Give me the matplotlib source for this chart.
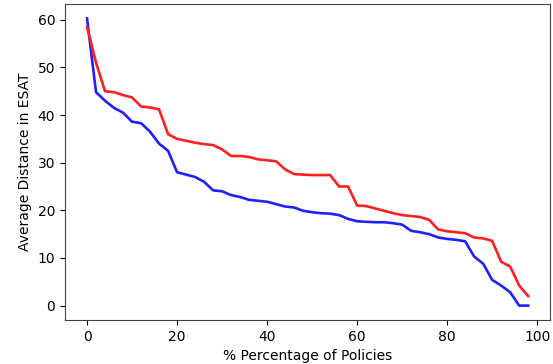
import matplotlib
matplotlib.use("Agg")
import matplotlib.pyplot as plt

pct = list(range(0, 100, 2))
blue = [60.3, 44.8, 43.0, 41.5, 40.5, 38.6, 38.3, 36.5, 34.0, 32.5,
        28.0, 27.5, 27.0, 26.0, 24.2, 24.0, 23.2, 22.8, 22.2, 22.0,
        21.8, 21.3, 20.8, 20.6, 19.9, 19.6, 19.4, 19.3, 19.0, 18.2,
        17.7, 17.6, 17.5, 17.5, 17.3, 17.0, 15.7, 15.4, 15.0, 14.3,
        14.0, 13.8, 13.5, 10.3, 8.8, 5.4, 4.2, 2.8, 0.0, 0.0]
red = [58.5, 51.0, 45.0, 44.8, 44.2, 43.7, 41.8, 41.6, 41.2, 36.0,
       35.0, 34.6, 34.2, 33.9, 33.7, 32.8, 31.4, 31.4, 31.2, 30.7,
       30.5, 30.3, 28.6, 27.6, 27.5, 27.4, 27.4, 27.4, 25.0, 25.0,
       21.0, 20.9, 20.4, 19.9, 19.4, 19.0, 18.8, 18.6, 18.0, 16.0,
       15.6, 15.4, 15.2, 14.3, 14.1, 13.6, 9.2, 8.2, 4.2, 2.0]

fig = plt.figure(figsize=(5.53, 3.64), dpi=100)
ax = fig.add_axes([0.1175, 0.121, 0.8775, 0.868])
ax.plot(pct, blue, color="#1f1fff", lw=1.9)
ax.plot(pct, red, color="#ff1f1f", lw=1.9)
ax.set_xlabel("% Percentage of Policies", fontsize=10)
ax.set_ylabel("Average Distance in ESAT", fontsize=10)
ax.tick_params(labelsize=10)
ax.set_xticks([0, 20, 40, 60, 80, 100])
for s in ax.spines.values():
    s.set_color("#444444")
fig.savefig("out.png", dpi=100)
